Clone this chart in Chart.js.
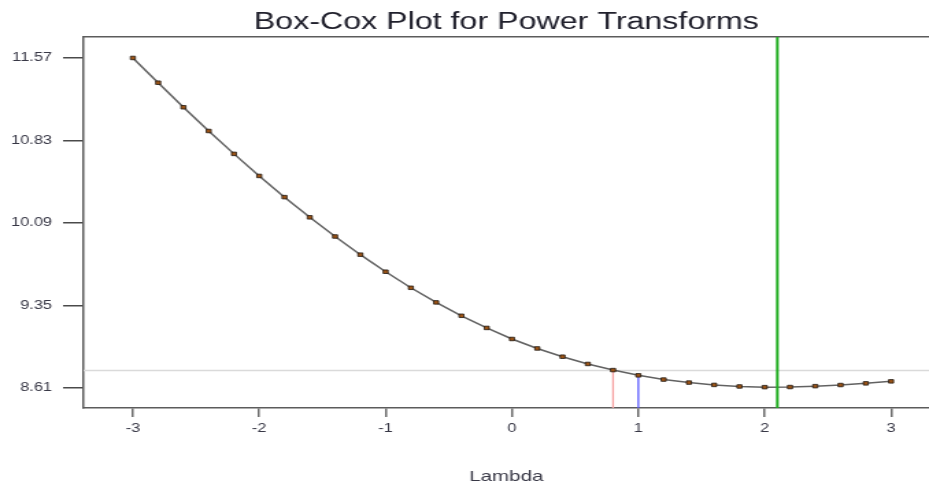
<!DOCTYPE html>
<html>
<head>
<meta charset="utf-8">
<title>Box-Cox Plot for Power Transforms</title>
<script src="https://cdn.jsdelivr.net/npm/chart.js@4/dist/chart.umd.min.js"></script>
<style>
  html, body { margin: 0; padding: 0; background: #ffffff; overflow: hidden; }
</style>
</head>
<body>
<canvas id="plot" width="678" height="486" style="display:block;width:929px;height:486px"></canvas>
<script>
// Box-Cox lambda grid and the standard deviation of the transformed data
const lambdas = [-3.0, -2.8, -2.6, -2.4, -2.2, -2.0, -1.8, -1.6, -1.4, -1.2, -1.0,
                 -0.8, -0.6, -0.4, -0.2, 0.0, 0.2, 0.4, 0.6, 0.8, 1.0,
                 1.2, 1.4, 1.6, 1.8, 2.0, 2.2, 2.4, 2.6, 2.8, 3.0];
const stDev = [11.570, 11.348, 11.128, 10.915, 10.710, 10.512, 10.322, 10.141, 9.969, 9.806, 9.653,
               9.509, 9.378, 9.258, 9.149, 9.050, 8.965, 8.891, 8.826, 8.771, 8.724,
               8.686, 8.659, 8.638, 8.624, 8.618, 8.619, 8.627, 8.637, 8.652, 8.670];

// Confidence cut-off and the marked lambda values
const limitStDev = 8.768;
const lowerLimit = 0.8;
const roundedLambda = 1.0;
const bestLambda = 2.1;

// Axis ticks and ranges
const xTickValues = [-3, -2, -1, 0, 1, 2, 3];
const yTickValues = [8.61, 9.35, 10.09, 10.83, 11.57];
const xRange = [-3.39, 3.30];
const yRange = [8.431, 11.758];

const fontFamily = '"Liberation Sans", Arial, Helvetica, sans-serif';
const labelColor = '#383846';
const axisColor = '#5c5c5c';

const curve = lambdas.map((l, i) => ({ x: l, y: stDev[i] }));
const stDevAtRounded = stDev[lambdas.indexOf(roundedLambda)];

const noMarks = { pointRadius: 0, pointHoverRadius: 0, fill: false, tension: 0 };

// keep the plot box flush with the right edge of the canvas
const noSidePadding = s => { s.paddingLeft = 0; s.paddingRight = 0; };

new Chart(document.getElementById('plot'), {
  type: 'line',
  data: {
    datasets: [
      Object.assign({
        label: 'Estimate',
        data: [{ x: bestLambda, y: yRange[0] }, { x: bestLambda, y: yRange[1] }],
        borderColor: '#1fad1f',
        borderWidth: 2
      }, noMarks),
      {
        label: 'StDev',
        data: curve,
        borderColor: '#626262',
        borderWidth: 1.5,
        tension: 0,
        fill: false,
        pointStyle: 'rect',
        pointRadius: 2.5,
        pointBackgroundColor: '#9c5416',
        pointBorderColor: '#221a14',
        pointBorderWidth: 0.8
      },
      Object.assign({
        label: 'Rounded',
        data: [{ x: roundedLambda, y: yRange[0] }, { x: roundedLambda, y: stDevAtRounded }],
        borderColor: '#5c5cff',
        borderWidth: 1.3
      }, noMarks),
      Object.assign({
        label: 'Lower CL',
        data: [{ x: lowerLimit, y: yRange[0] }, { x: lowerLimit, y: limitStDev }],
        borderColor: '#f6a4a4',
        borderWidth: 1.3
      }, noMarks),
      Object.assign({
        label: 'Limit',
        data: [{ x: xRange[0], y: limitStDev }, { x: xRange[1], y: limitStDev }],
        borderColor: '#dadada',
        borderWidth: 1.5
      }, noMarks)
    ]
  },
  options: {
    responsive: false,
    animation: false,
    devicePixelRatio: 1,
    events: [],
    layout: { padding: 0, autoPadding: false },
    plugins: {
      legend: { display: false },
      tooltip: { enabled: false },
      title: {
        display: true,
        text: 'Box-Cox Plot for Power Transforms',
        fullSize: false,
        color: '#20202c',
        font: { family: fontFamily, size: 23.5, weight: 'normal', lineHeight: 1.2 },
        padding: { top: 8.4, bottom: 0.4 }
      }
    },
    scales: {
      x: {
        type: 'linear',
        position: 'bottom',
        min: xRange[0],
        max: xRange[1],
        afterBuildTicks: s => { s.ticks = xTickValues.map(v => ({ value: v })); },
        afterFit: s => { s.height = 78; noSidePadding(s); },
        grid: { display: true, drawOnChartArea: false, drawTicks: true, tickLength: 9, color: '#6a6a6a', lineWidth: 1.5 },
        border: { display: true, color: axisColor, width: 1.5 },
        ticks: {
          color: labelColor,
          padding: 4,
          maxRotation: 0,
          font: { family: fontFamily, size: 12 },
          callback: v => String(v)
        },
        title: {
          display: true,
          text: 'Lambda',
          color: labelColor,
          font: { family: fontFamily, size: 15, lineHeight: 1.2 },
          padding: { top: 0, bottom: 0 }
        }
      },
      xTop: {
        type: 'linear',
        position: 'top',
        min: xRange[0],
        max: xRange[1],
        afterFit: noSidePadding,
        grid: { display: false, drawTicks: false },
        border: { display: true, color: axisColor, width: 1.5 },
        ticks: { display: false }
      },
      y: {
        type: 'linear',
        position: 'left',
        min: yRange[0],
        max: yRange[1],
        afterBuildTicks: s => { s.ticks = yTickValues.map(v => ({ value: v })); },
        afterFit: s => { s.width = 61; },
        grid: { display: true, drawOnChartArea: false, drawTicks: true, tickLength: 15, color: '#4a4a4a', lineWidth: 1.5 },
        border: { display: true, color: axisColor, width: 1.5 },
        ticks: {
          color: labelColor,
          padding: 8,
          font: { family: fontFamily, size: 12 },
          callback: v => v.toFixed(2)
        }
      }
    }
  }
});
</script>
</body>
</html>
